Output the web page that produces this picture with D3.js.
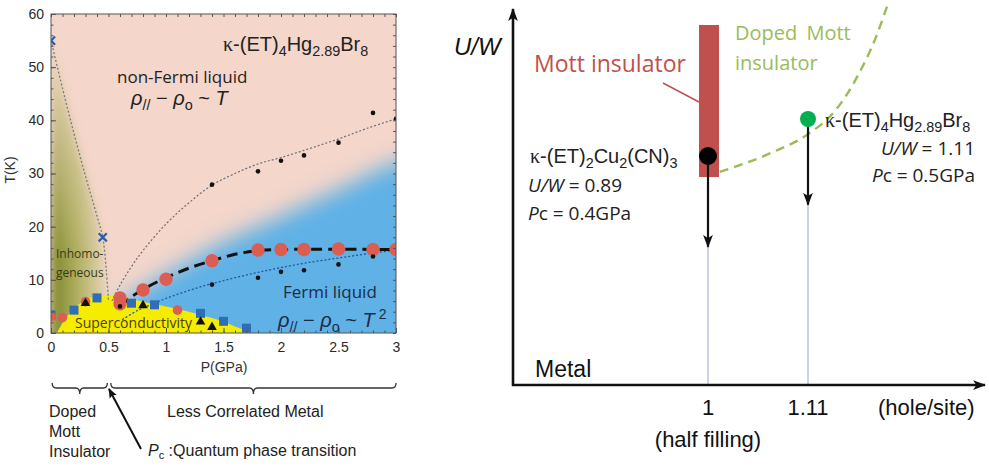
<!DOCTYPE html>
<html lang="en">
<head>
<meta charset="utf-8">
<title>Phase diagram and U/W schematic</title>
<style>
  body { margin: 0; background: #fff; }
  text { font-family: "Liberation Sans", Arial, sans-serif; }
  .os { font-family: "Open Sans", sans-serif; }
  .axis path { display: none; }
  .axis line { stroke: #555; }
  .axis text { font-family: "Liberation Sans", Arial, sans-serif; font-size: 14px; fill: #2a2a2a; }
</style>
<script src="https://d3js.org/d3.v7.min.js"></script>
</head>
<body>
<svg width="989" height="467"></svg>
<script>
// ---------- data: left panel (P in GPa, T in K) ----------
var pTicks = [0, 0.5, 1, 1.5, 2, 2.5, 3];
var tTicks = [0, 10, 20, 30, 40, 50, 60];
var redBig = [[0.6,6.6],[0.6,5.5],[0.8,8.1],[1.0,10.1],[1.4,13.6],[1.8,15.6],[2.0,15.7],[2.2,15.7],[2.5,15.8],[2.8,15.7],[3.0,15.7]];
var redSmall = [[0,3.1],[0.1,2.9],[0.3,5.9],[1.1,4.3]];
var blueSquares = [[0,3.4],[0.2,4.3],[0.4,6.6],[0.7,5.6],[0.9,5.3],[1.3,3.7],[1.5,2.2],[1.7,0.9]];
var triangles = [[0.3,5.6],[0.8,5.2],[1.3,2.1],[1.4,1.1]];
var dotsUpper = [[1.4,27.9],[1.8,30.4],[2.0,32.4],[2.2,33.4],[2.5,35.8],[2.8,41.4],[3.0,40.3]];
var dotsLower = [[0.6,5.0],[1.4,9.1],[1.8,10.4],[2.0,11.5],[2.2,11.8],[2.5,12.9],[2.8,14.4]];
var crosses = [[0,55],[0.45,18]];
var inhomoLine = [[0,55],[0.1,46],[0.2,37.5],[0.3,29.5],[0.4,22],[0.45,18],[0.48,12],[0.5,6]];
var nflLine = [[0.53,6],[0.6,9],[0.7,12.5],[0.8,15.5],[1.0,20.5],[1.2,24.5],[1.4,27.8],[1.6,30],[1.8,31.8],[2.0,33],[2.25,34.7],[2.5,36.5],[2.75,38.5],[3,40.3]];
var flLine = [[0.62,2.5],[0.75,4.2],[0.9,5.6],[1.0,6.5],[1.2,8],[1.4,9.3],[1.6,10.4],[1.8,11.4],[2.0,12.3],[2.25,13.3],[2.5,14.1],[2.75,14.9],[3,15.6]];
var crossoverLine = [[0.6,5],[0.7,6.8],[0.8,8.2],[1.0,10.4],[1.2,12.2],[1.4,13.6],[1.6,14.8],[1.8,15.5],[2.0,15.7],[3,15.7]];
var scDome = [[0.05,0],[0.12,2.5],[0.2,4.6],[0.3,6.2],[0.4,6.9],[0.5,7],[0.6,6.8],[0.7,6.3],[0.8,5.9],[0.9,5.4],[1.0,5.0],[1.1,4.5],[1.2,4.0],[1.3,3.4],[1.4,2.8],[1.5,2.1],[1.6,1.2],[1.73,0]];
var flRegion = [[0.5,0],[0.55,4],[0.7,7],[1.0,11],[1.4,16],[2.0,22],[2.5,27],[3.0,32],[3.3,33],[3.3,-2],[0.5,-2]];
var inhomoRegion = [[0,-2],[0,55],[0.1,46],[0.2,37.5],[0.3,29.5],[0.4,22],[0.45,18],[0.48,12],[0.5,6],[0.5,-2]];

// ---------- data: right panel (filling in hole/site, U/W) ----------
var fillTicks = [1, 1.11];
var uwValues = [0.89, 1.11];
var pcValues = [0.4, 0.5];
var uwUnderPressure = [0.35, 0.6];
var mottBar = [0.765, 1.669];
var dopedBoundary = [[1.013,0.795],[1.07,0.91],[1.11,1.02],[1.14,1.16],[1.165,1.37],[1.185,1.6],[1.197,1.78]];

var svg = d3.select("svg");
var defs = svg.append("defs");

// =============== left panel ===============
var x = d3.scaleLinear().domain([0, 3]).range([51, 396]);
var y = d3.scaleLinear().domain([0, 60]).range([333, 14]);
var px = function(d) { return [x(d[0]), y(d[1])]; };

defs.append("clipPath").attr("id", "plotClip")
  .append("rect").attr("x", x(0)).attr("y", y(60)).attr("width", x(3) - x(0)).attr("height", y(0) - y(60));
defs.append("filter").attr("id", "blurBlue").attr("x", "-20%").attr("y", "-20%").attr("width", "140%").attr("height", "140%")
  .append("feGaussianBlur").attr("stdDeviation", 11);
defs.append("filter").attr("id", "blurGreen").attr("x", "-20%").attr("y", "-20%").attr("width", "140%").attr("height", "140%")
  .append("feGaussianBlur").attr("stdDeviation", 4);

var gH = defs.append("linearGradient").attr("id", "greenH").attr("x1", 0).attr("y1", 0).attr("x2", 1).attr("y2", 0);
gH.append("stop").attr("offset", 0).attr("stop-color", "#7c8628");
gH.append("stop").attr("offset", 0.45).attr("stop-color", "#aeae5e");
gH.append("stop").attr("offset", 1).attr("stop-color", "#eed8c2");
var gV = defs.append("linearGradient").attr("id", "pinkV").attr("gradientUnits", "userSpaceOnUse")
  .attr("x1", 0).attr("y1", y(14)).attr("x2", 0).attr("y2", y(52));
gV.append("stop").attr("offset", 0).attr("stop-color", "#f2dcc4").attr("stop-opacity", 0);
gV.append("stop").attr("offset", 1).attr("stop-color", "#f2dcc4").attr("stop-opacity", 0.92);

var plot = svg.append("g").attr("clip-path", "url(#plotClip)");
plot.append("rect").attr("x", x(0)).attr("y", y(60)).attr("width", x(3) - x(0)).attr("height", y(0) - y(60)).attr("fill", "#f4d6ca");

var area = d3.line().x(function(d) { return x(d[0]); }).y(function(d) { return y(d[1]); });
var smooth = d3.line().x(function(d) { return x(d[0]); }).y(function(d) { return y(d[1]); }).curve(d3.curveCatmullRom);

var greenG = plot.append("g").attr("filter", "url(#blurGreen)");
greenG.append("path").attr("d", area(inhomoRegion) + "Z").attr("fill", "url(#greenH)");
greenG.append("path").attr("d", area(inhomoRegion) + "Z").attr("fill", "url(#pinkV)");

plot.append("path").attr("d", smooth(flRegion) + "Z").attr("fill", "#5eb1e6").attr("filter", "url(#blurBlue)");
plot.append("path").attr("d", smooth(scDome.concat([[0.05,0]])) + "Z").attr("fill", "#f6ec00");

// lines
plot.append("path").attr("d", smooth(inhomoLine)).attr("fill", "none").attr("stroke", "#7a7a86").attr("stroke-width", 1.3).attr("stroke-dasharray", "2,2");
plot.append("path").attr("d", smooth(nflLine)).attr("fill", "none").attr("stroke", "#6e6e78").attr("stroke-width", 1.2).attr("stroke-dasharray", "2,2");
plot.append("path").attr("d", smooth(flLine)).attr("fill", "none").attr("stroke", "#2457a0").attr("stroke-width", 1.3).attr("stroke-dasharray", "2,2");
plot.append("path").attr("d", smooth(crossoverLine)).attr("fill", "none").attr("stroke", "#111").attr("stroke-width", 3).attr("stroke-dasharray", "11,6");

// markers
plot.selectAll(".sq").data(blueSquares).enter().append("rect")
  .attr("x", function(d) { return x(d[0]) - 4.5; }).attr("y", function(d) { return y(d[1]) - 4.5; })
  .attr("width", 9).attr("height", 9).attr("fill", "#2f6db6");
plot.selectAll(".rs").data(redSmall).enter().append("circle")
  .attr("cx", function(d) { return x(d[0]); }).attr("cy", function(d) { return y(d[1]); })
  .attr("r", 4.8).attr("fill", "#dc5d52");
plot.selectAll(".rb").data(redBig).enter().append("circle")
  .attr("cx", function(d) { return x(d[0]); }).attr("cy", function(d) { return y(d[1]); })
  .attr("r", 6.7).attr("fill", "#dc5d52");
plot.selectAll(".tri").data(triangles).enter().append("path")
  .attr("transform", function(d) { return "translate(" + px(d) + ")"; })
  .attr("d", d3.symbol().type(d3.symbolTriangle).size(40)).attr("fill", "#111");
plot.selectAll(".du").data(dotsUpper.concat(dotsLower)).enter().append("circle")
  .attr("cx", function(d) { return x(d[0]); }).attr("cy", function(d) { return y(d[1]); })
  .attr("r", 2.3).attr("fill", "#111");
plot.selectAll(".cx").data(crosses).enter().append("path")
  .attr("transform", function(d) { return "translate(" + px(d) + ")"; })
  .attr("d", d3.symbol().type(d3.symbolX).size(45)).attr("fill", "none").attr("stroke", "#2a5fa8").attr("stroke-width", 2.2);

// frame and ticks
svg.append("rect").attr("x", x(0)).attr("y", y(60)).attr("width", x(3) - x(0)).attr("height", y(0) - y(60))
  .attr("fill", "none").attr("stroke", "#555");
var minorP = d3.range(0, 3.001, 0.1), minorT = d3.range(0, 60.001, 2);
svg.append("g").attr("class", "axis").attr("transform", "translate(0," + y(0) + ")")
  .call(d3.axisBottom(x).tickValues(pTicks).tickSizeInner(-5).tickSizeOuter(0).tickPadding(9).tickFormat(d3.format("")));
svg.append("g").attr("class", "axis").attr("transform", "translate(0," + y(0) + ")")
  .call(d3.axisBottom(x).tickValues(minorP).tickSize(-2.5).tickFormat(""));
svg.append("g").attr("class", "axis").attr("transform", "translate(0," + y(60) + ")")
  .call(d3.axisTop(x).tickValues(minorP).tickSize(-3).tickFormat(""));
svg.append("g").attr("class", "axis").attr("transform", "translate(" + x(0) + ",0)")
  .call(d3.axisLeft(y).tickValues(tTicks).tickSizeInner(-5).tickSizeOuter(0).tickPadding(7));
svg.append("g").attr("class", "axis").attr("transform", "translate(" + x(0) + ",0)")
  .call(d3.axisLeft(y).tickValues(minorT).tickSize(-2.5).tickFormat(""));
svg.append("g").attr("class", "axis").attr("transform", "translate(" + x(3) + ",0)")
  .call(d3.axisRight(y).tickValues(minorT).tickSize(-3).tickFormat(""));

svg.append("text").attr("x", 224).attr("y", 372).attr("text-anchor", "middle").attr("font-size", 14).attr("fill", "#333").text("P(GPa)");
svg.append("text").attr("transform", "translate(15,170) rotate(-90)").attr("text-anchor", "middle").attr("font-size", 14).attr("fill", "#333").text("T(K)");

// chemical formula helper: parts are [string, kind]; kind: k kappa, n normal, s subscript, i italic
function chem(g, xPos, yPos, size, anchor, parts, cls) {
  var t = g.append("text").attr("x", xPos).attr("y", yPos).attr("font-size", size).attr("text-anchor", anchor || "start").attr("fill", "#222");
  if (cls) t.attr("class", cls);
  var sub = false;
  parts.forEach(function(p) {
    var ts = t.append("tspan").text(p[0]);
    if (p[1] === "s") {
      ts.attr("font-size", size * 0.72).attr("dy", sub ? 0 : size * 0.26);
      sub = true;
    } else {
      if (sub) ts.attr("dy", -size * 0.26);
      sub = false;
      if (p[1] === "k") ts.attr("font-family", "'Liberation Serif', serif");
      if (p[1] === "i") ts.attr("font-style", "italic");
    }
  });
  return t;
}

chem(svg, 223, 51, 20, "start", [["κ","k"],["-(ET)","n"],["4","s"],["Hg","n"],["2.89","s"],["Br","n"],["8","s"]]);
svg.append("text").attr("class", "os").attr("x", 117).attr("y", 83).attr("font-size", 17).attr("fill", "#222").text("non-Fermi liquid");
chem(svg, 131, 105, 20, "start", [["ρ","i"],["//","s"],[" − ","n"],["ρ","i"],["o","s"],[" ~ ","n"],["T","i"]]);
svg.append("text").attr("class", "os").attr("x", 56).attr("y", 258).attr("font-size", 12).attr("fill", "#3c3a18").text("Inhomo-");
svg.append("text").attr("class", "os").attr("x", 56).attr("y", 277).attr("font-size", 12).attr("fill", "#3c3a18").text("geneous");
svg.append("text").attr("class", "os").attr("x", 283).attr("y", 298).attr("font-size", 17).attr("fill", "#1c2c48").text("Fermi liquid");
var fl = chem(svg, 278, 327, 20, "start", [["ρ","i"],["//","s"],[" − ","n"],["ρ","i"],["o","s"],[" ~ ","n"],["T","i"]]);
fl.attr("fill", "#1c2c48").append("tspan").attr("dy", -8).attr("font-size", 14).text(" 2");
svg.append("text").attr("class", "os").attr("x", 75).attr("y", 328).attr("font-size", 14).attr("fill", "#4a3c08").text("Superconductivity");

// braces under the axis
function brace(x0, x1) {
  var xc = (x0 + x1) / 2, yb = 388;
  return "M" + x0 + "," + (yb - 5) + "Q" + x0 + "," + yb + " " + (x0 + 4) + "," + yb + "H" + (xc - 4) +
    "Q" + xc + "," + yb + " " + xc + "," + (yb + 6) + "Q" + xc + "," + yb + " " + (xc + 4) + "," + yb +
    "H" + (x1 - 4) + "Q" + x1 + "," + yb + " " + x1 + "," + (yb - 5);
}
svg.append("path").attr("d", brace(x(0.01), x(0.49))).attr("fill", "none").attr("stroke", "#333").attr("stroke-width", 1.3);
svg.append("path").attr("d", brace(x(0.52), x(3))).attr("fill", "none").attr("stroke", "#333").attr("stroke-width", 1.3);
["Doped", "Mott", "Insulator"].forEach(function(s, i) {
  svg.append("text").attr("x", 49).attr("y", 417 + i * 20).attr("font-size", 16).attr("fill", "#222").text(s);
});
svg.append("text").attr("x", 167).attr("y", 417).attr("font-size", 16).attr("fill", "#222").text("Less Correlated Metal");

defs.append("marker").attr("id", "headS").attr("viewBox", "0 0 10 10").attr("refX", 9).attr("refY", 5)
  .attr("markerWidth", 10).attr("markerHeight", 10).attr("markerUnits", "userSpaceOnUse").attr("orient", "auto")
  .append("path").attr("d", "M0,1 L10,5 L0,9 L2,5 Z").attr("fill", "#111");
svg.append("line").attr("x1", 141).attr("y1", 449).attr("x2", 109).attr("y2", 389)
  .attr("stroke", "#111").attr("stroke-width", 2).attr("marker-end", "url(#headS)");
var pcT = svg.append("text").attr("x", 148).attr("y", 456).attr("font-size", 16).attr("fill", "#222");
pcT.append("tspan").attr("font-style", "italic").text("P");
pcT.append("tspan").attr("font-size", 11).attr("dy", 3).text("c");
pcT.append("tspan").attr("dy", -3).text(" :Quantum phase transition");

// =============== right panel ===============
var xR = d3.scaleLinear().domain([1, 1.11]).range([708, 808]);
var yR = d3.scaleLinear().domain([0.89, 1.11]).range([156, 119]);
var axX0 = 513, axY0 = 385;

defs.append("marker").attr("id", "headL").attr("viewBox", "0 0 12 12").attr("refX", 11).attr("refY", 6)
  .attr("markerWidth", 13).attr("markerHeight", 13).attr("markerUnits", "userSpaceOnUse").attr("orient", "auto")
  .append("path").attr("d", "M0,1.5 L12,6 L0,10.5 L3,6 Z").attr("fill", "#111");

// thin guide lines at the fillings
svg.selectAll(".guide").data(fillTicks).enter().append("line")
  .attr("x1", function(d) { return xR(d); }).attr("x2", function(d) { return xR(d); })
  .attr("y1", function(d, i) { return yR(uwUnderPressure[i]); }).attr("y2", axY0)
  .attr("stroke", "#a4b4d4").attr("stroke-width", 1.2);

// Mott insulator bar
svg.append("rect").attr("x", xR(1) - 9).attr("y", yR(mottBar[1])).attr("width", 20)
  .attr("height", yR(mottBar[0]) - yR(mottBar[1])).attr("fill", "#c0504d");
svg.append("line").attr("x1", 663).attr("y1", 83).attr("x2", xR(1) - 9).attr("y2", 102).attr("stroke", "#c0504d").attr("stroke-width", 1.5);
svg.append("text").attr("class", "os").attr("x", 534).attr("y", 72).attr("font-size", 23).attr("fill", "#c0504d").text("Mott insulator");

// doped Mott boundary
svg.append("path").attr("d", d3.line().x(function(d) { return xR(d[0]); }).y(function(d) { return yR(d[1]); }).curve(d3.curveMonotoneX)(dopedBoundary))
  .attr("fill", "none").attr("stroke", "#9bbb59").attr("stroke-width", 2.4).attr("stroke-dasharray", "9,6");
svg.append("text").attr("class", "os").attr("x", 735).attr("y", 40).attr("font-size", 20).attr("fill", "#9bbb59").attr("word-spacing", 4).text("Doped Mott");
svg.append("text").attr("class", "os").attr("x", 735).attr("y", 70).attr("font-size", 20).attr("fill", "#9bbb59").text("insulator");

// axes
svg.append("line").attr("x1", axX0).attr("y1", axY0 + 1).attr("x2", axX0).attr("y2", 9)
  .attr("stroke", "#111").attr("stroke-width", 2.6).attr("marker-end", "url(#headL)");
svg.append("line").attr("x1", axX0 - 1).attr("y1", axY0).attr("x2", 985).attr("y2", axY0)
  .attr("stroke", "#111").attr("stroke-width", 2.6).attr("marker-end", "url(#headL)");
svg.append("text").attr("x", 454).attr("y", 55).attr("font-size", 24).attr("font-style", "italic").attr("fill", "#111").text("U/W");
svg.append("text").attr("x", 535).attr("y", 377).attr("font-size", 23).attr("fill", "#111").text("Metal");
svg.selectAll(".ft").data(fillTicks).enter().append("text")
  .attr("x", function(d) { return xR(d); }).attr("y", 415).attr("text-anchor", "middle")
  .attr("font-size", 22).attr("fill", "#111").text(function(d) { return d3.format("")(d); });
svg.append("text").attr("x", xR(1)).attr("y", 447).attr("text-anchor", "middle").attr("font-size", 22).attr("fill", "#111").text("(half filling)");
svg.append("text").attr("x", 878).attr("y", 415).attr("font-size", 22).attr("fill", "#111").text("(hole/site)");

// compounds and pressure arrows
var dotColors = ["#000", "#00b050"];
svg.selectAll(".arr").data(fillTicks).enter().append("line")
  .attr("x1", function(d) { return xR(d); }).attr("x2", function(d) { return xR(d); })
  .attr("y1", function(d, i) { return yR(uwValues[i]); }).attr("y2", function(d, i) { return yR(uwUnderPressure[i]); })
  .attr("stroke", "#111").attr("stroke-width", 2.2).attr("marker-end", "url(#headL)");
svg.selectAll(".cmp").data(fillTicks).enter().append("circle")
  .attr("cx", function(d) { return xR(d); }).attr("cy", function(d, i) { return yR(uwValues[i]); })
  .attr("r", function(d, i) { return i ? 8 : 9; }).attr("fill", function(d, i) { return dotColors[i]; });

chem(svg, 530, 163, 20, "start", [["κ","k"],["-(ET)","n"],["2","s"],["Cu","n"],["2","s"],["(CN)","n"],["3","s"]]);
chem(svg, 825, 127, 20, "start", [["κ","k"],["-(ET)","n"],["4","s"],["Hg","n"],["2.89","s"],["Br","n"],["8","s"]]);
[[528, "start", 192, 220], [975, "end", 155, 182]].forEach(function(c, i) {
  var t1 = svg.append("text").attr("class", "os").attr("x", c[0]).attr("y", c[2]).attr("font-size", 19).attr("text-anchor", c[1]).attr("fill", "#222");
  t1.append("tspan").attr("font-style", "italic").text("U/W");
  t1.append("tspan").text(" = " + d3.format(".2f")(uwValues[i]));
  var t2 = svg.append("text").attr("class", "os").attr("x", c[0]).attr("y", c[3]).attr("font-size", 19).attr("text-anchor", c[1]).attr("fill", "#222");
  t2.append("tspan").attr("font-style", "italic").text("P");
  t2.append("tspan").text("c = " + pcValues[i] + "GPa");
});
</script>
</body>
</html>
